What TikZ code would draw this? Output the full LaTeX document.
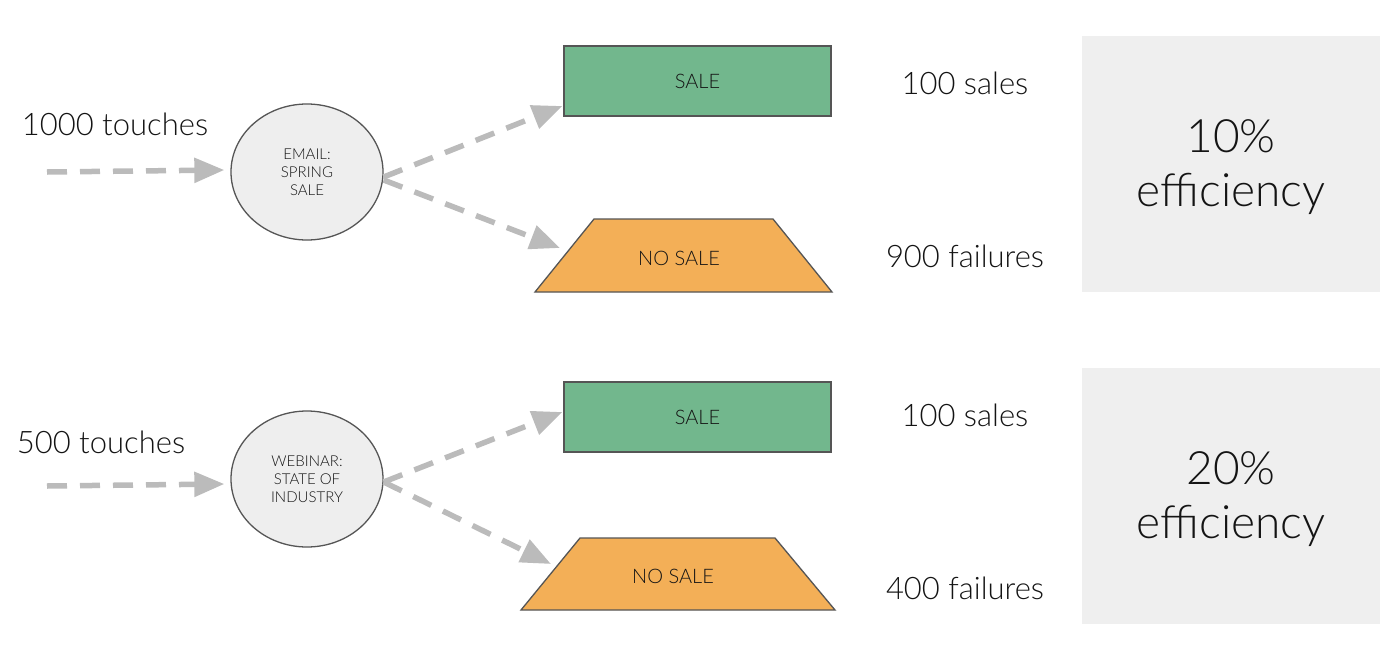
\documentclass[tikz,border=0pt]{standalone}
\usepackage{fontspec}
\setmainfont{Lato Light}
\usetikzlibrary{shapes.geometric,arrows.meta,calc}
\definecolor{salegreen}{RGB}{114,183,141}
\definecolor{noorange}{RGB}{243,175,87}
\definecolor{edgegrey}{RGB}{85,85,85}
\definecolor{boxgrey}{RGB}{239,239,239}
\definecolor{circgrey}{RGB}{238,238,238}
\definecolor{arrowgrey}{RGB}{187,187,187}
\definecolor{txt}{RGB}{20,20,20}
\begin{document}
\begin{tikzpicture}[x=1pt,y=-1pt,
  every node/.style={text=txt},
  channel/.style={ellipse,draw=edgegrey,line width=1.3pt,fill=circgrey,minimum width=152pt,minimum height=136pt,inner sep=0pt,align=center,font=\fontsize{15}{18}\selectfont},
  salebox/.style={rectangle,draw=edgegrey,line width=1.3pt,fill=salegreen,minimum width=267pt,minimum height=70pt,inner sep=0pt,font=\fontsize{20}{24}\selectfont},
  nosaleshape/.style={draw=edgegrey,line width=1.3pt,fill=noorange,line join=miter},
  nosaletext/.style={inner sep=0pt,font=\fontsize{20}{24}\selectfont},
  bigtext/.style={font=\fontsize{31}{36}\selectfont,inner sep=0pt},
  effbox/.style={rectangle,fill=boxgrey,minimum width=298pt,minimum height=256pt,inner sep=0pt,align=center,font=\fontsize{46}{55}\selectfont},
  flow/.style={draw=arrowgrey,line width=5.5pt,dash pattern=on 20pt off 13pt,-{Triangle[length=30pt,width=24pt]}}
]
\useasboundingbox (0,0) rectangle (1400,659);
% top row
\node[effbox] (eff1) at (1231,164) {};
\node (eff1t) at (1231,168) {\fontsize{46}{55}\selectfont\begin{tabular}{@{}c@{}}10\%\\[-1pt]efficiency\end{tabular}};
\node[channel] (ch1) at (307,172) {EMAIL:\\SPRING\\SALE};
\node[salebox] (sale1) at (697.5,81) {SALE};
\coordinate (no1bl) at (535,292);
\coordinate (no1tl) at (594,219);
\coordinate (no1tr) at (773,219);
\coordinate (no1br) at (832,292);
\draw[nosaleshape] (no1bl) -- (no1tl) -- (no1tr) -- (no1br) -- cycle;
\node[nosaletext] (no1) at (679,258) {NO SALE};
\coordinate (no1in) at (560,248);
\node[bigtext] (t1) at (115,124) {1000 touches};
\node[bigtext] (s1) at (965,83) {100 sales};
\node[bigtext] (f1) at (965,256) {900 failures};
\coordinate (in1) at (47,172);
\draw[flow] (in1) -- ($(ch1.west)+(-6,-2)$);
\draw[flow] ($(ch1.east)+(0,5)$) -- ($(sale1.west)+(-1,25)$);
\draw[flow] ($(ch1.east)+(0,8)$) -- (no1in);
% bottom row
\node[effbox] (eff2) at (1231,496) {};
\node (eff2t) at (1231,500) {\fontsize{46}{55}\selectfont\begin{tabular}{@{}c@{}}20\%\\[-1pt]efficiency\end{tabular}};
\node[channel] (ch2) at (307,479) {WEBINAR:\\STATE OF\\INDUSTRY};
\node[salebox] (sale2) at (697.5,417) {SALE};
\coordinate (no2bl) at (521,610);
\coordinate (no2tl) at (580,538);
\coordinate (no2tr) at (775,538);
\coordinate (no2br) at (835,610);
\draw[nosaleshape] (no2bl) -- (no2tl) -- (no2tr) -- (no2br) -- cycle;
\node[nosaletext] (no2) at (673,576) {NO SALE};
\coordinate (no2in) at (551,564);
\node[bigtext] (t2) at (101,442) {500 touches};
\node[bigtext] (s2) at (965,415) {100 sales};
\node[bigtext] (f2) at (965,588) {400 failures};
\coordinate (in2) at (47,486);
\draw[flow] (in2) -- ($(ch2.west)+(-6,5)$);
\draw[flow] ($(ch2.east)+(0,3)$) -- ($(sale2.west)+(-1,-5)$);
\draw[flow] ($(ch2.east)+(0,3)$) -- (no2in);
\end{tikzpicture}
\end{document}
